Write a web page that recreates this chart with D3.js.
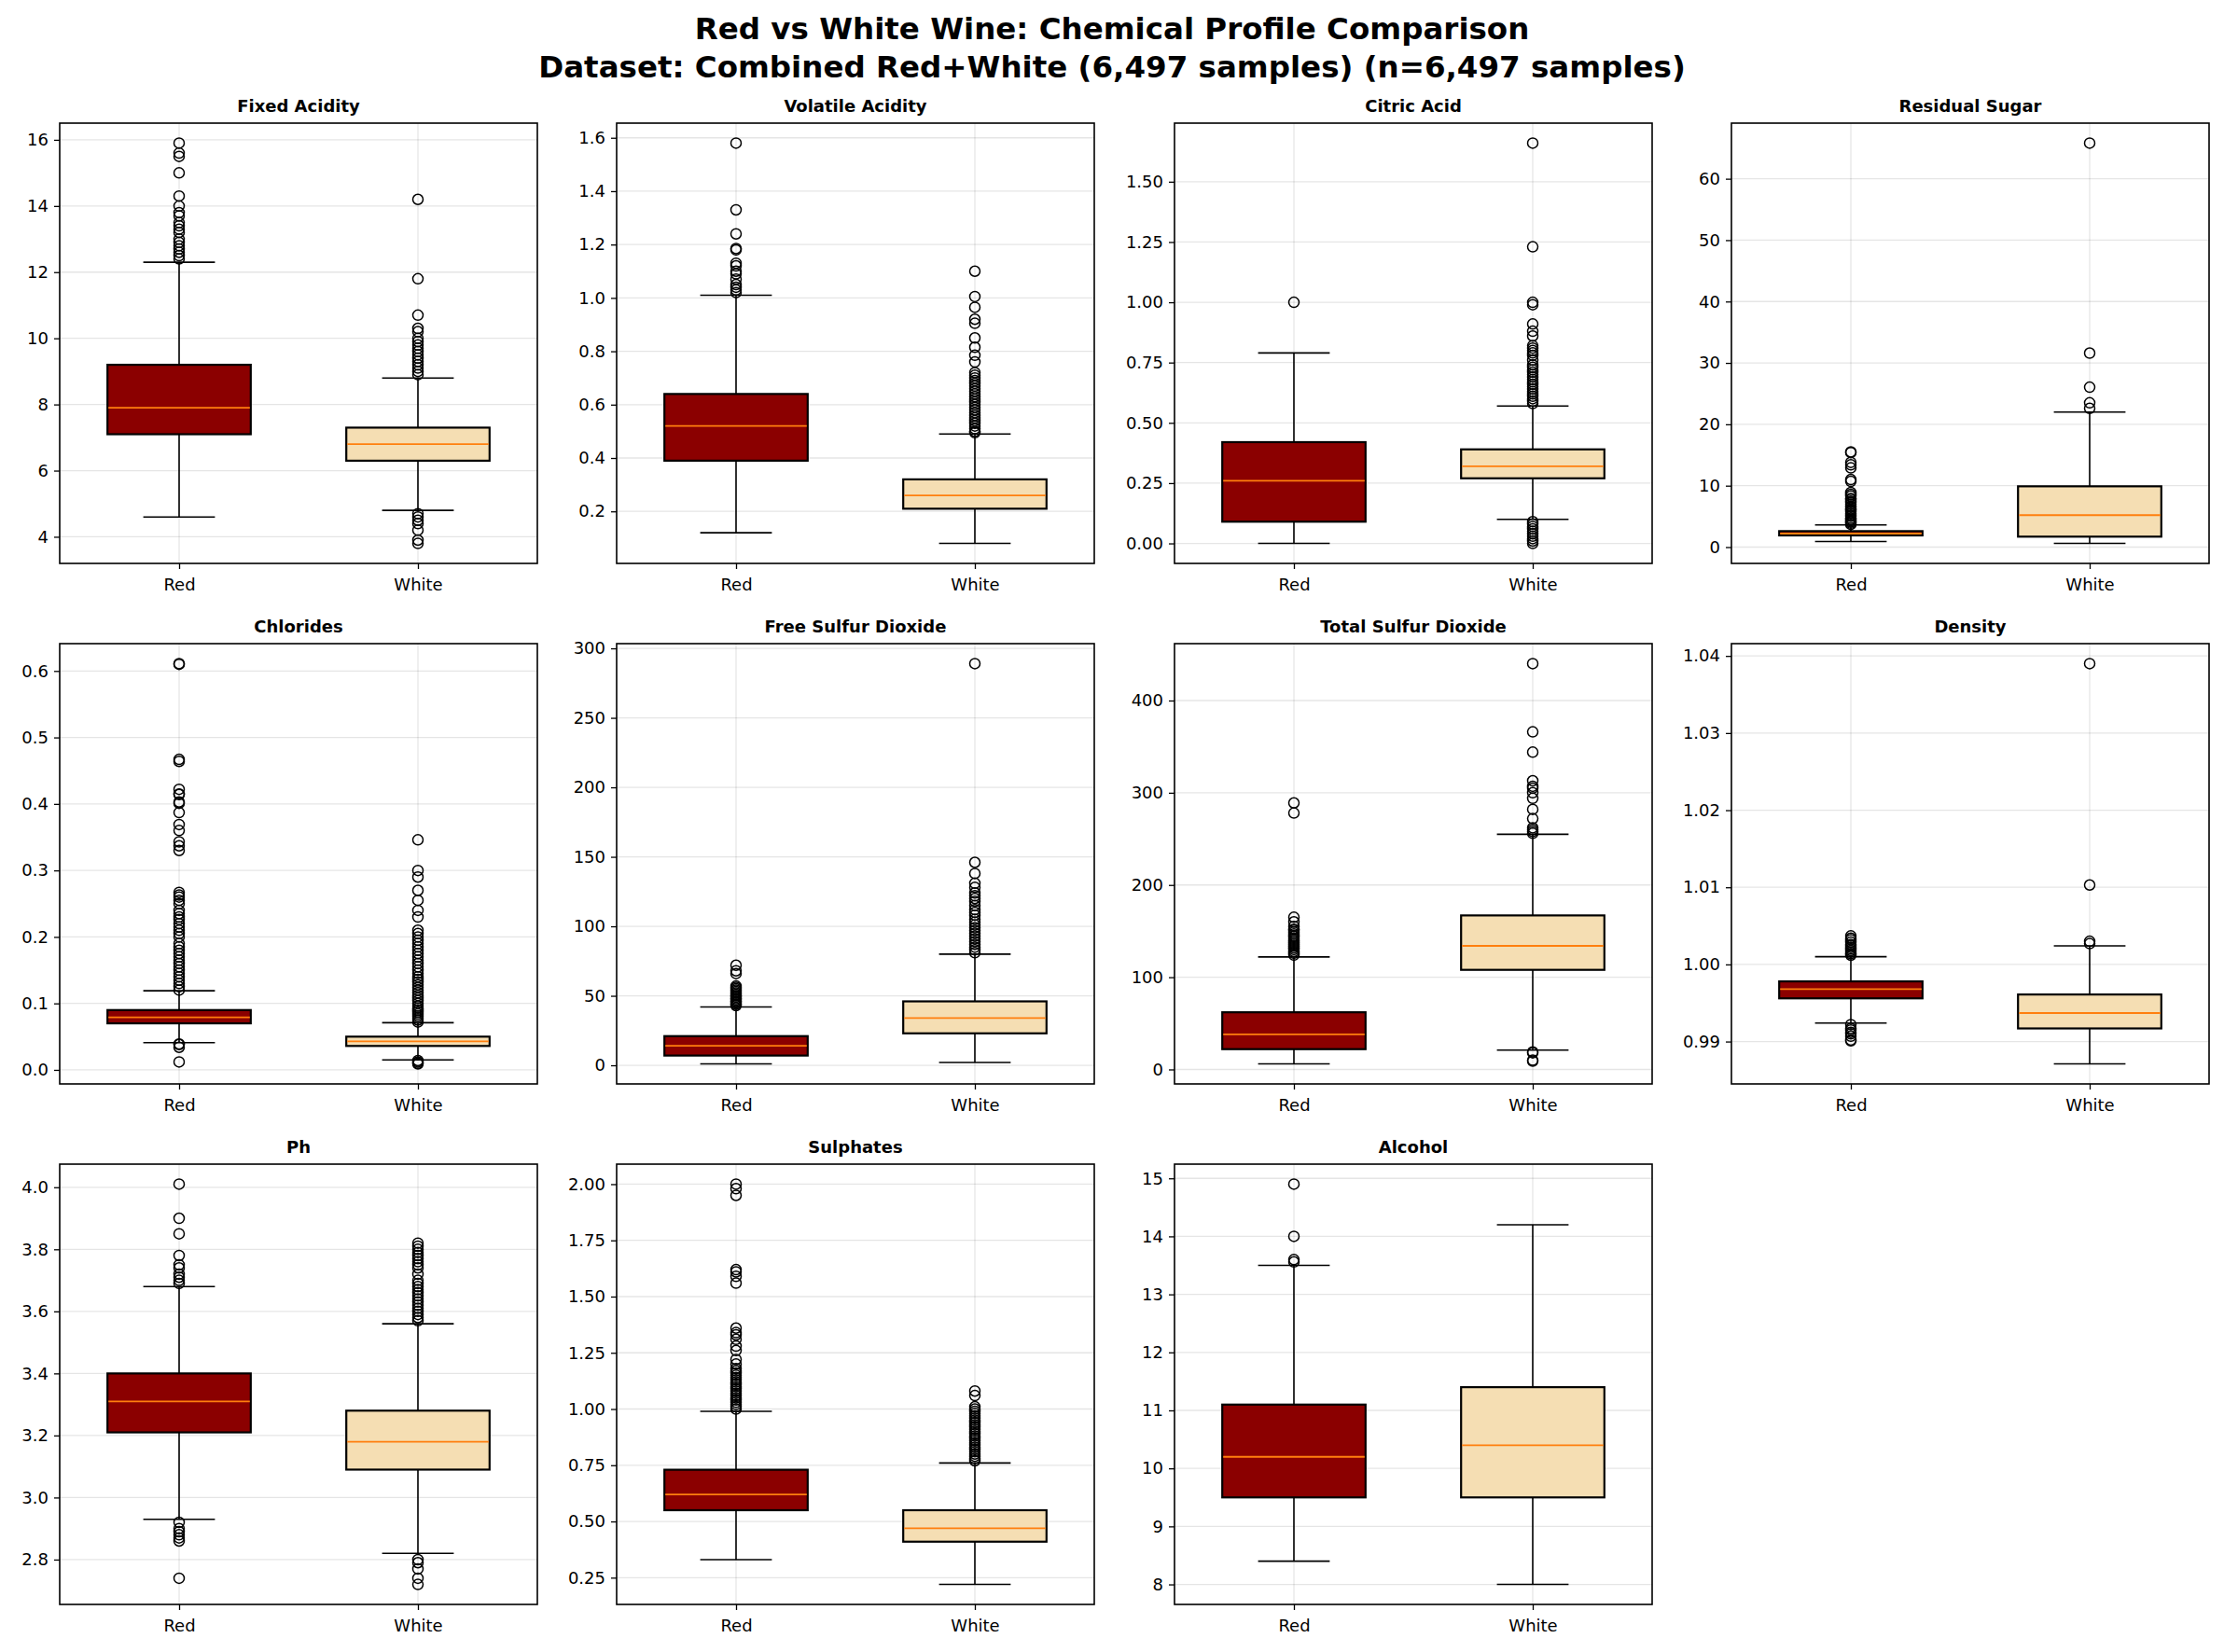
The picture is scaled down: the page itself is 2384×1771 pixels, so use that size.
<!DOCTYPE html>
<html><head><meta charset="utf-8">
<script src="https://cdn.jsdelivr.net/npm/d3@7"></script>
<style>body{margin:0;background:#fff}svg{font-family:"DejaVu Sans",sans-serif}</style>
</head><body><svg id="c" width="2384" height="1771"></svg>
<script>
const titleLines = ["Red vs White Wine: Chemical Profile Comparison", "Dataset: Combined Red+White (6,497 samples) (n=6,497 samples)"];
const groups = ["Red", "White"];
const features = ["Fixed Acidity","Volatile Acidity","Citric Acid","Residual Sugar","Chlorides","Free Sulfur Dioxide","Total Sulfur Dioxide","Density","Ph","Sulphates","Alcohol"];
// [q1, median, q3, whiskerLow, whiskerHigh]
const redStats = [
 [7.1,7.9,9.2,4.6,12.3],[0.39,0.52,0.64,0.12,1.01],[0.09,0.26,0.42,0,0.79],[1.9,2.2,2.6,0.9,3.6],
 [0.07,0.079,0.09,0.041,0.119],[7,14,21,1,42],[22,38,62,6,122],[0.9956,0.9968,0.9978,0.9924,1.001],
 [3.21,3.31,3.40,2.93,3.68],[0.55,0.62,0.73,0.33,0.99],[9.5,10.2,11.1,8.4,13.5]];
const whiteStats = [
 [6.3,6.8,7.3,4.8,8.8],[0.21,0.26,0.32,0.08,0.49],[0.27,0.32,0.39,0.10,0.57],[1.7,5.2,9.9,0.6,22.0],
 [0.036,0.043,0.05,0.015,0.071],[23,34,46,2,80],[108,134,167,21,255],[0.9917,0.9937,0.9961,0.9871,1.0024],
 [3.09,3.18,3.28,2.82,3.56],[0.41,0.47,0.55,0.22,0.76],[9.5,10.4,11.4,8.0,14.2]];
const redOut = [
 [12.4,12.5,12.6,12.7,12.8,12.9,13.0,13.2,13.3,13.4,13.5,13.7,13.8,14.0,14.3,15.0,15.5,15.6,15.9],
 [1.02,1.03,1.04,1.05,1.07,1.09,1.10,1.12,1.13,1.18,1.185,1.24,1.33,1.58],
 [1.0],
 [3.7,3.9,4.1,4.3,4.5,4.7,5.0,5.2,5.5,5.8,6.0,6.2,6.5,6.7,7.0,7.3,7.5,7.8,7.9,8.3,8.6,8.9,10.7,11.0,12.9,13.4,13.8,15.4,15.5],
 [0.012,0.034,0.038,0.039,0.12,0.125,0.13,0.135,0.14,0.145,0.15,0.155,0.16,0.165,0.17,0.175,0.18,0.185,0.19,0.2,0.205,0.21,0.215,0.22,0.226,0.23,0.235,0.24,0.25,0.255,0.26,0.263,0.267,0.33,0.337,0.343,0.36,0.369,0.387,0.401,0.403,0.414,0.415,0.422,0.464,0.467,0.61,0.611],
 [43,44,45,46,47,48,49,50,51,52,53,54,55,56,57,66,68,72],
 [124,126,128,130,132,134,136,138,140,142,144,145,147,149,151,152,155,160,165,278,289],
 [1.0012,1.0014,1.0016,1.0018,1.002,1.0022,1.0024,1.0026,1.0029,1.0032,1.0034,1.0037,0.9922,0.9917,0.9915,0.9912,0.991,0.9907,0.9902,0.9901],
 [3.69,3.70,3.71,3.72,3.74,3.75,3.78,3.85,3.9,4.01,2.92,2.90,2.89,2.88,2.87,2.86,2.74],
 [1.0,1.01,1.02,1.03,1.04,1.05,1.06,1.07,1.08,1.09,1.1,1.11,1.12,1.13,1.14,1.15,1.16,1.17,1.18,1.2,1.22,1.26,1.28,1.31,1.33,1.34,1.36,1.56,1.59,1.61,1.62,1.95,1.98,2.0],
 [13.56,13.6,14.0,14.9]];
const whiteOut = [
 [8.9,9.0,9.1,9.2,9.3,9.4,9.5,9.6,9.7,9.8,9.9,10.0,10.2,10.3,10.7,11.8,14.2,4.7,4.6,4.5,4.4,4.2,3.9,3.8],
 [0.495,0.5,0.51,0.52,0.53,0.54,0.55,0.56,0.57,0.58,0.59,0.6,0.61,0.62,0.63,0.64,0.65,0.66,0.67,0.68,0.69,0.7,0.71,0.72,0.76,0.785,0.815,0.85,0.905,0.92,0.965,1.005,1.1],
 [0.58,0.59,0.6,0.61,0.62,0.63,0.64,0.65,0.66,0.67,0.68,0.69,0.7,0.71,0.72,0.73,0.74,0.76,0.78,0.79,0.8,0.81,0.82,0.86,0.88,0.91,0.99,1.0,1.23,1.66,0.09,0.08,0.07,0.06,0.05,0.04,0.03,0.02,0.01,0.0],
 [22.6,23.5,26.05,31.6,65.8],
 [0.072,0.075,0.078,0.081,0.084,0.087,0.09,0.093,0.096,0.1,0.104,0.108,0.112,0.116,0.12,0.124,0.128,0.132,0.136,0.14,0.145,0.15,0.155,0.16,0.165,0.17,0.175,0.18,0.185,0.19,0.195,0.2,0.205,0.21,0.23,0.24,0.255,0.27,0.29,0.3,0.346,0.014,0.012,0.01,0.009],
 [81,83,85,87,89,91,93,95,97,99,101,103,105,108,110,112,115,118,120,122,124,128,131,138,146,289],
 [256,258,260,262,272,282,294,300,305,307,313,344,366,440,19,18,10,9],
 [1.0027,1.003,1.0103,1.039],
 [3.57,3.58,3.59,3.6,3.61,3.62,3.63,3.64,3.65,3.66,3.67,3.68,3.69,3.7,3.72,3.74,3.75,3.76,3.77,3.78,3.79,3.8,3.81,3.82,2.8,2.79,2.77,2.74,2.72],
 [0.77,0.78,0.79,0.8,0.81,0.82,0.83,0.84,0.85,0.86,0.87,0.88,0.89,0.9,0.91,0.92,0.93,0.94,0.95,0.96,0.97,0.98,0.99,1.0,1.01,1.06,1.08],
 []];
const tickVals = [
 [4,6,8,10,12,14,16],[0.2,0.4,0.6,0.8,1.0,1.2,1.4,1.6],[0,0.25,0.5,0.75,1.0,1.25,1.5],[0,10,20,30,40,50,60],
 [0,0.1,0.2,0.3,0.4,0.5,0.6],[0,50,100,150,200,250,300],[0,100,200,300,400],[0.99,1.0,1.01,1.02,1.03,1.04],
 [2.8,3.0,3.2,3.4,3.6,3.8,4.0],[0.25,0.5,0.75,1.0,1.25,1.5,1.75,2.0],[8,9,10,11,12,13,14,15]];
const tickFmt = [".0f",".1f",".2f",".0f",".1f",".0f",".0f",".2f",".1f",".2f",".0f"];
const fills = ["#8b0000","#f5deb3"];

const svg = d3.select("#c");
svg.selectAll("text.title").data(titleLines).enter().append("text")
  .attr("x",1192).attr("y",(d,i)=>42+i*41).attr("text-anchor","middle")
  .attr("font-size",32.5).attr("font-weight","bold").text(d=>d);

const colX=[64,661,1259,1856], rowY=[132,690,1248], W=512, H=472;
features.forEach((f,i)=>{
  const g = svg.append("g").attr("transform",`translate(${colX[i%4]},${rowY[Math.floor(i/4)]})`);
  const stats=[redStats[i],whiteStats[i]], outs=[redOut[i],whiteOut[i]];
  const all=[...stats[0],...stats[1],...outs[0],...outs[1]];
  let mn=d3.min(all), mx=d3.max(all), pad=(mx-mn)*0.05;
  const y=d3.scaleLinear().domain([mn-pad,mx+pad]).range([H,0]);
  const x=d3.scaleLinear().domain([0.5,2.5]).range([0,W]);
  g.selectAll("line.gy").data(tickVals[i]).enter().append("line")
    .attr("x1",0).attr("x2",W).attr("y1",d=>y(d)).attr("y2",d=>y(d)).attr("stroke","#000").attr("stroke-opacity",0.1).attr("stroke-width",1.3);
  g.selectAll("line.gx").data([1,2]).enter().append("line")
    .attr("y1",0).attr("y2",H).attr("x1",d=>x(d)).attr("x2",d=>x(d)).attr("stroke","#000").attr("stroke-opacity",0.1).attr("stroke-width",1.3);
  stats.forEach((s,k)=>{
    const cx=x(k+1), bw=x(1.3)-x(0.7), cw=x(1.15)-x(0.85);
    g.append("line").attr("x1",cx).attr("x2",cx).attr("y1",y(s[2])).attr("y2",y(s[4])).attr("stroke","#000").attr("stroke-width",1.6);
    g.append("line").attr("x1",cx).attr("x2",cx).attr("y1",y(s[0])).attr("y2",y(s[3])).attr("stroke","#000").attr("stroke-width",1.6);
    [s[3],s[4]].forEach(v=>g.append("line").attr("x1",cx-cw/2).attr("x2",cx+cw/2).attr("y1",y(v)).attr("y2",y(v)).attr("stroke","#000").attr("stroke-width",1.6));
    g.append("rect").attr("x",cx-bw/2).attr("width",bw).attr("y",y(s[2])).attr("height",y(s[0])-y(s[2]))
      .attr("fill",fills[k]).attr("stroke","#000").attr("stroke-width",2.2);
    g.append("line").attr("x1",cx-bw/2+1).attr("x2",cx+bw/2-1).attr("y1",y(s[1])).attr("y2",y(s[1])).attr("stroke","#ff7f0e").attr("stroke-width",1.8);
    g.selectAll(null).data(outs[k]).enter().append("circle").attr("cx",cx).attr("cy",d=>y(d)).attr("r",5.5)
      .attr("fill","none").attr("stroke","#000").attr("stroke-width",1.5);
  });
  g.append("rect").attr("width",W).attr("height",H).attr("fill","none").attr("stroke","#000").attr("stroke-width",1.6);
  const ya=g.append("g").call(d3.axisLeft(y).tickValues(tickVals[i]).tickFormat(d3.format(tickFmt[i])).tickSize(6).tickPadding(6));
  const xa=g.append("g").attr("transform",`translate(0,${H})`).call(d3.axisBottom(x).tickValues([1,2]).tickFormat(d=>groups[d-1]).tickSize(6).tickPadding(10));
  [ya,xa].forEach(a=>{a.select(".domain").remove();a.selectAll("text").attr("font-size",18).attr("fill","#000").attr("font-family","DejaVu Sans");a.selectAll("line").attr("stroke","#000").attr("stroke-width",1.3);});
  g.append("text").attr("x",W/2).attr("y",-12).attr("text-anchor","middle").attr("font-size",18).attr("font-weight","bold").text(f);
});
</script></body></html>
